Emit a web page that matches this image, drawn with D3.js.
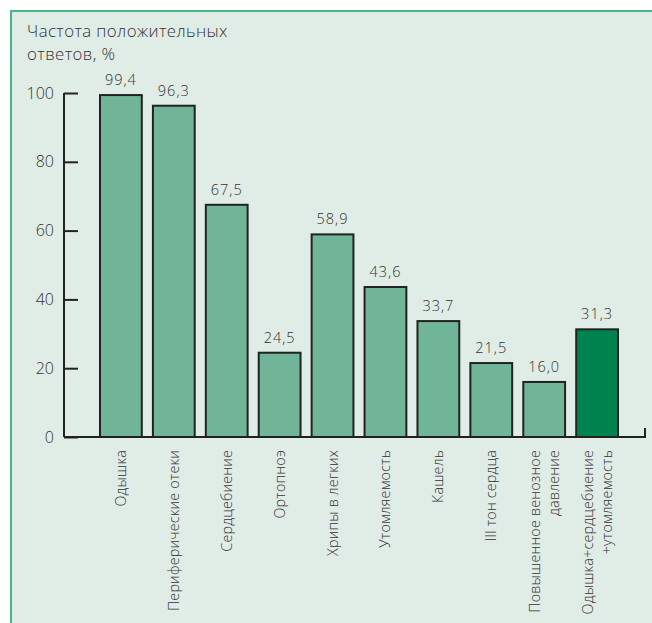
<!DOCTYPE html>
<html>
<head>
<meta charset="utf-8">
<script src="https://cdn.jsdelivr.net/npm/d3@7"></script>
<style>
  body { margin: 0; background: #fff; }
  svg { display: block; font-family: "Open Sans", "Noto Sans", sans-serif; font-weight: 300; }
</style>
</head>
<body>
<svg id="chart" width="652" height="623"></svg>
<script>
// data
const categories = [
  ["Одышка"],
  ["Периферические отеки"],
  ["Сердцебиение"],
  ["Ортопноэ"],
  ["Хрипы в легких"],
  ["Утомляемость"],
  ["Кашель"],
  ["III тон сердца"],
  ["Повышенное венозное", "давление"],
  ["Одышка+сердцебиение", "+утомляемость"]
];
const values = [99.4, 96.3, 67.5, 24.5, 58.9, 43.6, 33.7, 21.5, 16.0, 31.3];
const highlighted = [false, false, false, false, false, false, false, false, false, true];
const yTicks = [0, 20, 40, 60, 80, 100];
const titleLines = ["Частота положительных", "ответов, %"];

const svg = d3.select("#chart");
const textColor = "#333";

// panel background with green left/top border
svg.append("rect").attr("x", 11).attr("y", 11).attr("width", 641).attr("height", 612).attr("fill", "#e0ece6");
svg.append("line").attr("x1", 11).attr("x2", 11).attr("y1", 10).attr("y2", 623)
  .attr("stroke", "#4db38a").attr("stroke-width", 2);
svg.append("line").attr("x1", 10).attr("x2", 652).attr("y1", 11).attr("y2", 11)
  .attr("stroke", "#4db38a").attr("stroke-width", 2);

// scales
const x = d3.scaleBand()
  .domain(d3.range(values.length))
  .range([100, 618])
  .paddingInner(0.21)
  .paddingOuter(0);
const y = d3.scaleLinear().domain([0, 100]).range([437, 93]);

// title
svg.append("text")
  .attr("x", 27).attr("y", 37)
  .attr("font-size", 16.8).attr("letter-spacing", 0.4).attr("fill", textColor)
  .selectAll("tspan")
  .data(titleLines)
  .enter().append("tspan")
  .attr("x", 27).attr("dy", (d, i) => i ? 23 : 0)
  .text(d => d);

// y axis
const yAxis = svg.append("g").attr("transform", "translate(64,0)")
  .call(d3.axisRight(y).tickValues(yTicks).tickSize(14).tickFormat(""));
yAxis.select(".domain").attr("d", "M0," + y(0) + "V" + y(100)).attr("stroke", "#222").attr("stroke-width", 2);
yAxis.selectAll(".tick line").attr("stroke", "#222").attr("stroke-width", 2);

svg.selectAll(".ylab")
  .data(yTicks)
  .enter().append("text")
  .attr("class", "ylab")
  .attr("x", 54).attr("y", d => y(d))
  .attr("dy", "0.35em")
  .attr("text-anchor", "end")
  .attr("font-size", 16).attr("fill", textColor)
  .text(d => d);

// x baseline
svg.append("path")
  .attr("d", "M64," + y(0) + "H645V" + (y(0) - 9))
  .attr("fill", "none").attr("stroke", "#222").attr("stroke-width", 2);

// bars
svg.selectAll(".bar")
  .data(values)
  .enter().append("rect")
  .attr("class", "bar")
  .attr("x", (d, i) => x(i))
  .attr("y", d => y(d))
  .attr("width", x.bandwidth())
  .attr("height", d => y(0) - y(d))
  .attr("fill", (d, i) => highlighted[i] ? "#00844f" : "#70b597")
  .attr("stroke", "#222")
  .attr("stroke-width", 2);

// value labels
svg.selectAll(".val")
  .data(values)
  .enter().append("text")
  .attr("class", "val")
  .attr("x", (d, i) => x(i) + x.bandwidth() / 2)
  .attr("y", d => y(d) - 10)
  .attr("text-anchor", "middle")
  .attr("font-size", 14.5).attr("letter-spacing", 1).attr("fill", textColor)
  .text(d => d.toFixed(1).replace(".", ","));

// category labels, rotated
const lineGap = 19;
svg.selectAll(".cat")
  .data(categories)
  .enter().append("g")
  .attr("class", "cat")
  .each(function (lines, i) {
    const cx = x(i) + x.bandwidth() / 2;
    const n = lines.length;
    d3.select(this).selectAll("text")
      .data(lines)
      .enter().append("text")
      .attr("transform", (d, j) => {
        const lx = cx + (j - (n - 1) / 2) * lineGap + 5;
        return "translate(" + lx + ",450) rotate(-90)";
      })
      .attr("text-anchor", "end")
      .attr("font-size", 14.3).attr("letter-spacing", 0.2).attr("fill", textColor)
      .text(d => d);
  });
</script>
</body>
</html>
